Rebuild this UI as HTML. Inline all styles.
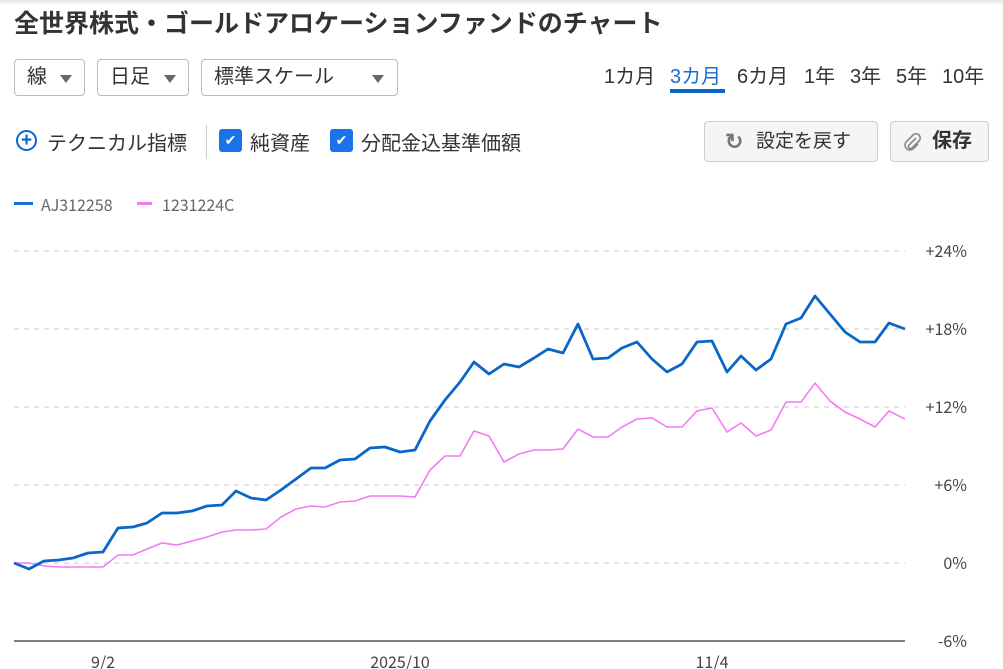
<!DOCTYPE html>
<html><head><meta charset="utf-8"><style>
body{margin:0;width:1003px;height:669px;overflow:hidden;background:#fff;font-family:"Liberation Sans","Noto Sans CJK JP",sans-serif;color:#333;position:relative}
.a{position:absolute;white-space:nowrap}
.sel{position:absolute;top:59px;height:37px;border:1px solid #bbb;border-radius:4px;box-sizing:border-box;font-size:20px;line-height:35px;padding-left:12px}
.tri{position:absolute;top:15px;width:0;height:0;border-left:6px solid transparent;border-right:6px solid transparent;border-top:8px solid #666}
.cb{position:absolute;top:129px;width:23px;height:23px;background:#1a73e8;border-radius:3px;color:#fff;font-size:14px;line-height:23px;text-align:center}
.btn{position:absolute;top:121px;height:41px;border:1px solid #ccc;border-radius:4px;background:#f5f5f5;box-sizing:border-box;font-size:19px;line-height:39px}
</style></head><body>
<div style="position:absolute;left:0;top:0;width:1003px;height:6px;background:linear-gradient(#e6e6e6,#fff)"></div>
<div class="a" style="left:14px;top:4px;font-size:25px;font-weight:bold;color:#333">全世界株式・ゴールドアロケーションファンドのチャート</div>
<div class="sel" style="left:14px;width:71px">線<div class="tri" style="left:45px"></div></div>
<div class="sel" style="left:97px;width:92px">日足<div class="tri" style="left:66px"></div></div>
<div class="sel" style="left:201px;width:197px">標準スケール<div class="tri" style="left:170px"></div></div>
<div class="a" style="left:604px;top:60px;font-size:20px">1カ月</div>
<div class="a" style="left:670px;top:60px;font-size:20px;color:#1a6fd0">3カ月</div>
<div style="position:absolute;left:670px;top:89px;width:55px;height:4px;background:#0a66c8"></div>
<div class="a" style="left:737px;top:60px;font-size:20px">6カ月</div>
<div class="a" style="left:804px;top:60px;font-size:20px">1年</div>
<div class="a" style="left:850px;top:60px;font-size:20px">3年</div>
<div class="a" style="left:896px;top:60px;font-size:20px">5年</div>
<div class="a" style="left:942px;top:60px;font-size:20px">10年</div>
<div class="a" style="left:16px;top:130px;width:17px;height:17px;border:2.5px solid #0a66c8;border-radius:50%;color:#0a66c8;font-size:19px;line-height:17px;text-align:center;font-weight:bold">+</div>
<div class="a" style="left:47px;top:127px;font-size:20px">テクニカル指標</div>
<div style="position:absolute;left:206px;top:125px;width:1px;height:34px;background:#ccc"></div>
<div class="cb" style="left:219px">✔</div>
<div class="a" style="left:250px;top:127px;font-size:20px">純資産</div>
<div class="cb" style="left:330px">✔</div>
<div class="a" style="left:361px;top:127px;font-size:20px">分配金込基準価額</div>
<div class="btn" style="left:704px;width:174px"><span style="position:absolute;left:20px;color:#777;font-size:22px;font-weight:bold">↻</span><span style="position:absolute;left:51px">設定を戻す</span></div>
<div class="btn" style="left:890px;width:99px"><svg style="position:absolute;left:13px;top:11px" width="18" height="20" viewBox="0 0 18 20"><path d="M12 5 L5 12 a2 2 0 0 0 3 3 L15 8 a4 4 0 0 0 -6 -6 L2 9 a5 5 0 0 0 7 7 L14 11" fill="none" stroke="#888" stroke-width="1.6"/></svg><span style="position:absolute;left:41px;font-weight:bold;font-size:20px">保存</span></div>
<div style="position:absolute;left:14px;top:202px;width:19px;height:3px;background:#1a6fd0"></div>
<div class="a" style="left:41px;top:192px;font-size:16px;color:#666;font-family:'Noto Sans CJK JP',sans-serif">AJ312258</div>
<div style="position:absolute;left:137px;top:202px;width:15px;height:3px;background:#f37af5"></div>
<div class="a" style="left:162px;top:192px;font-size:16px;color:#666;font-family:'Noto Sans CJK JP',sans-serif">1231224C</div>
<svg width="1003" height="669" style="position:absolute;left:0;top:0" font-family="Noto Sans CJK JP, sans-serif">
<g stroke="#d4d4d4" stroke-dasharray="5,5" stroke-width="1.3">
<line x1="14" x2="905" y1="251" y2="251"/><line x1="14" x2="905" y1="329" y2="329"/><line x1="14" x2="905" y1="407" y2="407"/><line x1="14" x2="905" y1="485" y2="485"/><line x1="14" x2="905" y1="563" y2="563"/></g>
<line x1="14" x2="905" y1="641" y2="641" stroke="#555" stroke-width="1.5"/>
<g font-size="16" fill="#444" text-anchor="end">
<text x="967" y="257">+24%</text><text x="967" y="335">+18%</text><text x="967" y="413">+12%</text><text x="967" y="491">+6%</text><text x="967" y="569">0%</text><text x="967" y="647">-6%</text></g>
<g font-size="16" fill="#444" text-anchor="middle"><text x="103" y="668">9/2</text><text x="400" y="668">2025/10</text><text x="712" y="668">11/4</text></g>
<polyline fill="none" stroke="#f37af5" stroke-width="1.6" points="14,563 29,563 44,566 59,567 73,567 88,567 103,567 118,555 133,555 147,549 162,543 177,545 192,541 207,537 222,532 236,530 251,530 266,529 281,517 296,509 311,506 325,507 340,502 355,501 370,496 385,496 400,496 415,497 430,470 445,456 460,456 474,431 489,436 504,462 519,454 534,450 548,450 563,449 578,429 593,437 608,437 622,427 637,419 652,418 667,427 682,427 697,411 712,408 727,432 741,423 756,436 771,430 786,402 801,402 815,383 830,401 845,412 860,419 875,427 889,411 905,419"/>
<polyline fill="none" stroke="#0a66c8" stroke-width="2.8" stroke-linejoin="round" points="14,563 29,569 44,561 59,560 73,558 88,553 103,552 118,528 133,527 147,523 162,513 177,513 192,511 207,506 222,505 236,491 251,498 266,500 281,490 296,479 311,468 325,468 340,460 355,459 370,448 385,447 400,452 415,450 430,421 445,400 460,382 474,362 489,374 504,364 519,367 534,358 548,349 563,353 578,324 593,359 608,358 622,348 637,342 652,359 667,372 682,364 697,342 712,341 727,372 741,356 756,370 771,359 786,324 801,318 815,296 830,314 845,332 860,342 875,342 889,323 905,329"/>
</svg>
</body></html>
